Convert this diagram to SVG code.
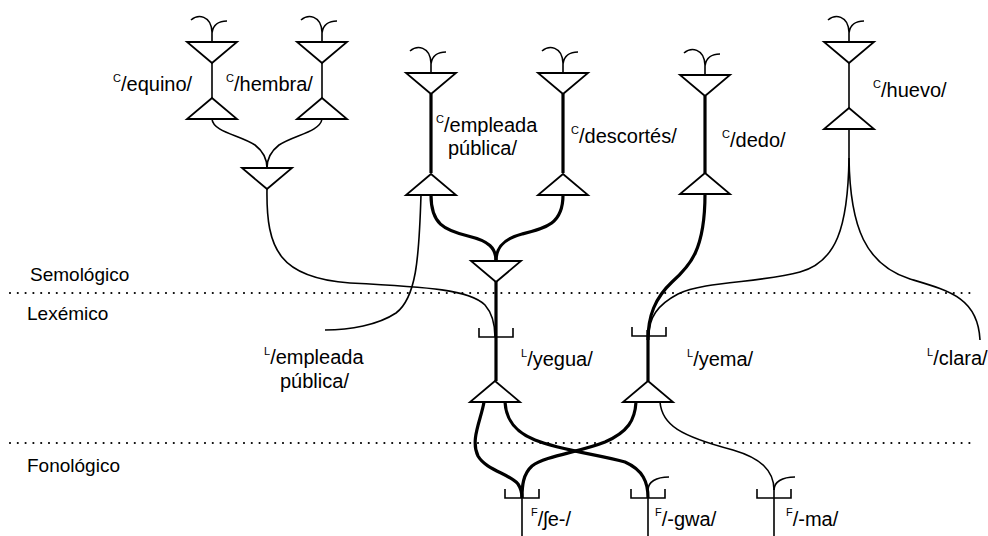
<svg xmlns="http://www.w3.org/2000/svg" width="988" height="536" viewBox="0 0 988 536">
  <defs>
    <style>
      .tri { fill: #fff; stroke: #000; stroke-width: 1.8; stroke-linejoin: miter; }
      .thin { fill: none; stroke: #000; stroke-width: 1.6; }
      .thick { fill: none; stroke: #000; stroke-width: 3.2; }
      .ant { fill: none; stroke: #000; stroke-width: 1.6; }
      .dots { fill: none; stroke: #000; stroke-width: 2.2; stroke-linecap: round; stroke-dasharray: 0 7.8; }
      .lbl { font-family: "Liberation Sans", Arial, Helvetica, sans-serif; font-size: 20px; fill: #000; }
      .lvl { font-family: "Liberation Sans", Arial, Helvetica, sans-serif; font-size: 19px; fill: #000; }
      .sup { font-size: 11px; }
    </style>
    <!-- downward AND triangle, origin at centre of top edge -->
    <path id="tri-down" d="M-25,0 H25 L0,21 Z"/>
    <!-- upward OR triangle, origin at apex -->
    <path id="tri-up" d="M0,0 L25,21 H-25 Z"/>
    <!-- two-branch input at top of a node, origin at centre of triangle top -->
    <path id="ant2" d="M-21,-22 C-14,-28 -1,-27 0,-10 V0 M0,-9 C1,-17 7,-21 15,-21"/>
    <!-- one-branch input above a bottom node, origin where it leaves the stem -->
    <path id="ant1" d="M0,0 C0,-8 8,-13 21,-13"/>
    <!-- bracket nection, origin at centre of bottom edge -->
    <path id="bracket" d="M-17,-9 V0 H17 V-9"/>
  </defs>

  <!-- stratal boundaries -->
  <g id="levels">
    <line class="dots" x1="10" y1="293" x2="976" y2="293"/>
    <line class="dots" x1="10" y1="443" x2="976" y2="443"/>
    <text class="lvl" x="30" y="281">Semológico</text>
    <text class="lvl" x="27" y="320">Lexémico</text>
    <text class="lvl" x="27" y="472">Fonológico</text>
  </g>

  <!-- connections between nodes -->
  <g id="connectors">
    <path class="thin" d="M212,119 C213,132 240,135 255,145 C264,152 267,160 267,168"/>
    <path class="thin" d="M322,119 C320,132 294,135 279,145 C270,152 267,160 267,168"/>
    <path class="thin" d="M267,189 C266,250 280,278 350,283 C430,287 470,290 485,305 C492,313 495,322 495,337"/>
    <path class="thin" d="M421,195 C419,260 416,298 396,313 C378,325 350,330 325,330"/>
    <path class="thin" d="M849,129 V158"/>
    <path class="thin" d="M849,158 C848,228 836,262 800,272 C760,283 705,281 678,294 C657,305 649,318 649,335"/>
    <path class="thin" d="M849,158 C850,228 866,265 910,279 C950,291 978,298 980,340"/>
    <path class="thin" d="M660,402 C662,425 680,436 733,450 C760,458 774,470 774,490"/>
    <path class="thick" d="M431,195 C431,224 444,230 468,236 C489,241 496,248 496,261"/>
    <path class="thick" d="M563,195 C563,224 546,228 522,234 C503,239 496,248 496,261"/>
    <path class="thick" d="M705,194 C705,250 690,266 672,282 C655,298 648,316 648,340"/>
    <path class="thick" d="M484,402 C481,420 470,440 478,456 C486,470 510,474 518,484 C522,490 522,494 522,498"/>
    <path class="thick" d="M505,402 C506,420 515,432 535,440 C560,450 600,455 625,462 C643,470 648,482 648,498"/>
    <path class="thick" d="M636,402 C635,420 628,432 605,442 C580,452 545,456 532,466 C523,474 522,486 522,498"/>
  </g>

  <!-- semological nodes -->
  <g id="c-equino">
    <use href="#ant2" class="ant" x="212" y="42"/>
    <path class="thin" d="M212,63 V98"/>
    <use href="#tri-down" class="tri" x="212" y="42"/>
    <use href="#tri-up" class="tri" x="212" y="98"/>
    <text class="lbl" x="113" y="91"><tspan class="sup" dy="-9">C</tspan><tspan dy="9">/equino/</tspan></text>
  </g>
  <g id="c-hembra">
    <use href="#ant2" class="ant" x="322" y="42"/>
    <path class="thin" d="M322,63 V98"/>
    <use href="#tri-down" class="tri" x="322" y="42"/>
    <use href="#tri-up" class="tri" x="322" y="98"/>
    <text class="lbl" x="226" y="91"><tspan class="sup" dy="-9">C</tspan><tspan dy="9">/hembra/</tspan></text>
  </g>
  <g id="and-equino-hembra">
    <use href="#tri-down" class="tri" x="267" y="168"/>
  </g>
  <g id="c-empleada-publica">
    <use href="#ant2" class="ant" x="431" y="73"/>
    <path class="thick" d="M431,94 V173"/>
    <use href="#tri-down" class="tri" x="431" y="73"/>
    <use href="#tri-up" class="tri" x="431" y="174"/>
    <text class="lbl" x="436" y="132"><tspan class="sup" dy="-9">C</tspan><tspan dy="9">/empleada</tspan></text>
    <text class="lbl" x="448" y="155">pública/</text>
  </g>
  <g id="c-descortes">
    <use href="#ant2" class="ant" x="563" y="73"/>
    <path class="thick" d="M563,94 V173"/>
    <use href="#tri-down" class="tri" x="563" y="73"/>
    <use href="#tri-up" class="tri" x="563" y="174"/>
    <text class="lbl" x="571" y="143"><tspan class="sup" dy="-9">C</tspan><tspan dy="9">/descortés/</tspan></text>
  </g>
  <g id="c-dedo">
    <use href="#ant2" class="ant" x="705" y="75"/>
    <path class="thick" d="M705,96 V173"/>
    <use href="#tri-down" class="tri" x="705" y="75"/>
    <use href="#tri-up" class="tri" x="705" y="173"/>
    <text class="lbl" x="722" y="147"><tspan class="sup" dy="-9">C</tspan><tspan dy="9">/dedo/</tspan></text>
  </g>
  <g id="c-huevo">
    <use href="#ant2" class="ant" x="849" y="42"/>
    <path class="thin" d="M849,63 V108"/>
    <use href="#tri-down" class="tri" x="849" y="42"/>
    <use href="#tri-up" class="tri" x="849" y="108"/>
    <text class="lbl" x="873" y="97"><tspan class="sup" dy="-9">C</tspan><tspan dy="9">/huevo/</tspan></text>
  </g>

  <!-- lexemic nodes -->
  <g id="l-empleada-publica">
    <text class="lbl" x="264" y="364"><tspan class="sup" dy="-9">L</tspan><tspan dy="9">/empleada</tspan></text>
    <text class="lbl" x="280" y="388">pública/</text>
  </g>
  <g id="l-yegua">
    <path class="thick" d="M496,281 V381"/>
    <use href="#tri-down" class="tri" x="496" y="261"/>
    <use href="#bracket" class="thin" x="496" y="337"/>
    <use href="#tri-up" class="tri" x="495" y="381"/>
    <text class="lbl" x="521" y="366"><tspan class="sup" dy="-9">L</tspan><tspan dy="9">/yegua/</tspan></text>
  </g>
  <g id="l-yema">
    <path class="thick" d="M648,330 V381"/>
    <use href="#bracket" class="thin" x="649" y="336"/>
    <use href="#tri-up" class="tri" x="648" y="381"/>
    <text class="lbl" x="687" y="366"><tspan class="sup" dy="-9">L</tspan><tspan dy="9">/yema/</tspan></text>
  </g>
  <g id="l-clara">
    <text class="lbl" x="927" y="365"><tspan class="sup" dy="-9">L</tspan><tspan dy="9">/clara/</tspan></text>
  </g>

  <!-- phonological nodes -->
  <g id="f-she">
    <path class="thin" d="M522,489 V536"/>
    <use href="#bracket" class="thin" x="522" y="498"/>
    <text class="lbl" x="531" y="526"><tspan class="sup" dy="-10">F</tspan><tspan dy="10">/ʃe-/</tspan></text>
  </g>
  <g id="f-gwa">
    <path class="thin" d="M648,489 V536"/>
    <use href="#ant1" class="ant" x="648" y="490"/>
    <use href="#bracket" class="thin" x="648" y="498"/>
    <text class="lbl" x="655" y="526"><tspan class="sup" dy="-10">F</tspan><tspan dy="10">/-gwa/</tspan></text>
  </g>
  <g id="f-ma">
    <path class="thin" d="M774,489 V536"/>
    <use href="#ant1" class="ant" x="774" y="490"/>
    <use href="#bracket" class="thin" x="774" y="498"/>
    <text class="lbl" x="786" y="526"><tspan class="sup" dy="-10">F</tspan><tspan dy="10">/-ma/</tspan></text>
  </g>
</svg>
